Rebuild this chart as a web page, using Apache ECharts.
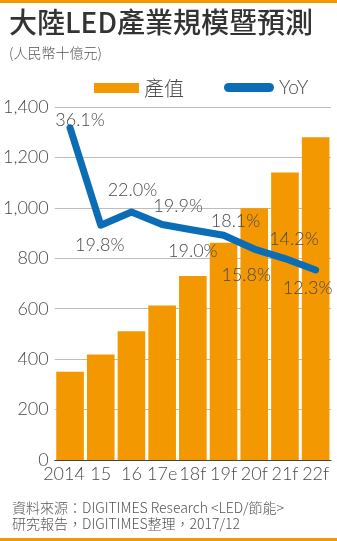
<!DOCTYPE html>
<html><head><meta charset="utf-8">
<script src="https://cdn.jsdelivr.net/npm/echarts@6/dist/echarts.min.js"></script>
<style>html,body{margin:0;padding:0;background:#fff;}#c{width:337px;height:541px;}</style>
</head><body><div id="c"></div>
<script>
const categories = ['2014','15','16','17e','18f','19f','20f','21f','22f'];
const outputValues = [350, 418, 511, 613, 730, 862, 998, 1140, 1280];
const yoyValues = [36.1, 19.8, 22.0, 19.9, 19.0, 18.1, 15.8, 14.2, 12.3];
const yTicks = [0, 200, 400, 600, 800, 1000, 1200, 1400];

const labelOffsets = [[10,-8],[-1,20],[1,-22],[16,-18],[0,21],[12,-14],[-8,26],[9,-19],[-8,18]];
const FONT = 'Lato, "Noto Sans CJK TC", sans-serif';
const CJK = '"Noto Sans CJK TC", sans-serif';
const TXT = '#4a4a4a';
const W = 300;

const chart = echarts.init(document.getElementById('c'), null, {renderer:'canvas'});
chart.setOption({
  animation: false,
  backgroundColor: '#fff',
  title: [
    {text:'大陸LED產業規模暨預測', left:9, top:8, padding:0,
     textStyle:{fontFamily:CJK, fontSize:28, fontWeight:500, color:'#333'}},
    {text:'(人民幣十億元)', left:9, top:46, padding:0,
     textStyle:{fontFamily:CJK, fontSize:14, fontWeight:W, color:'#555'}},
    {text:'資料來源：DIGITIMES Research <LED/節能>', left:12, top:501, padding:0,
     textStyle:{fontFamily:CJK, fontSize:14, fontWeight:W, color:'#555'}},
    {text:'研究報告，DIGITIMES整理，2017/12', left:12, top:517, padding:0,
     textStyle:{fontFamily:CJK, fontSize:14, fontWeight:W, color:'#555'}}
  ],
  graphic: [
    {type:'rect', shape:{x:0,y:0,width:337,height:3}, style:{fill:'#f39800'}},
    {type:'rect', shape:{x:0,y:538,width:337,height:3}, style:{fill:'#f39800'}}
  ],
  legend: [
    {left:94, top:78, padding:0, itemWidth:45, itemHeight:10, selectedMode:false,
     data:[{name:'產值', icon:'rect'}],
     textStyle:{fontFamily:CJK, fontSize:20, fontWeight:W, color:TXT}},
    {left:224, top:78, padding:0, itemWidth:50, itemHeight:9, selectedMode:false,
     data:[{name:'YoY', icon:'path://M4.5,0 L45.5,0 A4.5,4.5 0 0 1 45.5,9 L4.5,9 A4.5,4.5 0 0 1 4.5,0 Z'}],
     textStyle:{fontFamily:FONT, fontSize:19, fontWeight:W, color:TXT}}
  ],
  grid: {left:53, right:6, top:107, bottom:81, containLabel:false},
  xAxis: {
    type:'category', data:categories,
    axisLine:{lineStyle:{color:'#444', width:1}},
    axisTick:{length:4, lineStyle:{color:'#444'}},
    axisLabel:{interval:0, margin:5, fontFamily:FONT, fontSize:18, fontWeight:W, color:TXT,
      formatter:(v,i)=> i===0 ? '{a|'+v+'}' : v,
      rich:{a:{fontFamily:FONT, fontSize:18, fontWeight:W, color:TXT, padding:[0,12,0,0]}}}
  },
  yAxis: [
    {type:'value', min:yTicks[0], max:yTicks[yTicks.length-1], interval:200,
     axisLine:{show:false}, axisTick:{show:false},
     splitLine:{lineStyle:{color:'#bdbdbd', width:1}},
     axisLabel:{margin:6, fontFamily:FONT, fontSize:18, fontWeight:W, color:TXT,
       formatter:v=> v.toLocaleString('en-US')}},
    {type:'value', min:-19.55, max:39.6, show:false, splitLine:{show:false}}
  ],
  series: [
    {name:'產值', type:'bar', data:outputValues, barWidth:'90%',
     itemStyle:{color:'#f39800'}, z:1},
    {name:'YoY', type:'line', yAxisIndex:1, z:3,
     data: yoyValues.map((v,i)=>({value:v, label:{offset:labelOffsets[i]}})),
     symbol:'circle', symbolSize:1, showSymbol:true,
     itemStyle:{color:'#0b6db6'},
     lineStyle:{color:'#0b6db6', width:7, cap:'round', join:'round'},
     label:{show:true, position:'inside', fontFamily:FONT, fontSize:18, fontWeight:W, color:TXT,
       formatter:p=> p.value.toFixed(1)+'%'}}
  ]
});
</script></body></html>
